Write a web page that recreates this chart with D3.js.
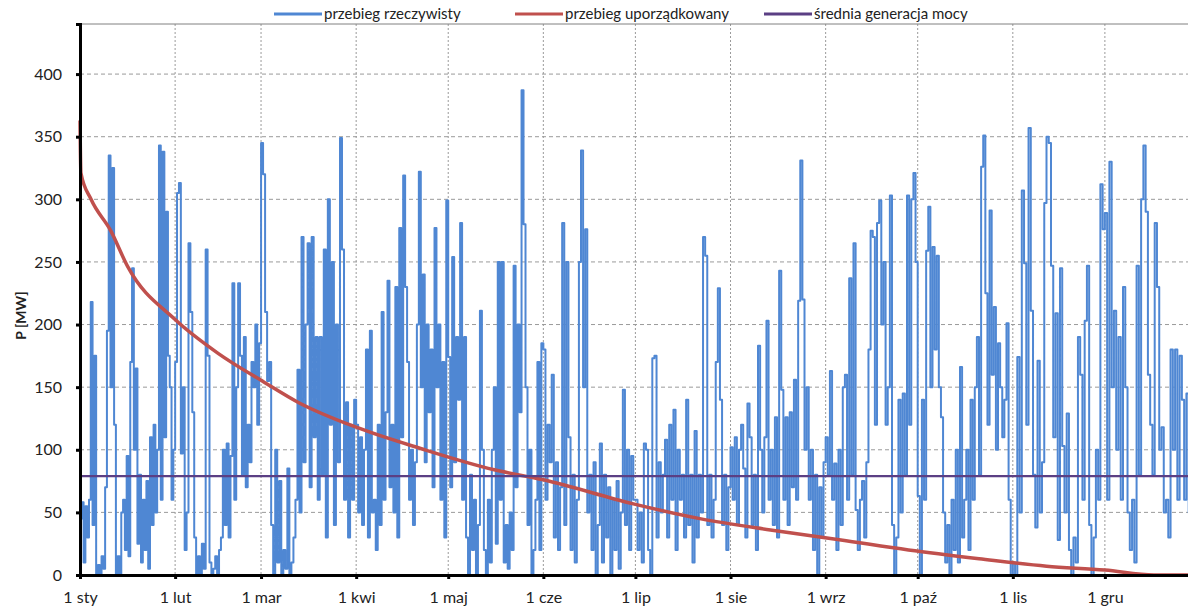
<!DOCTYPE html>
<html>
<head>
<meta charset="utf-8">
<script src="https://cdnjs.cloudflare.com/ajax/libs/d3/7.8.5/d3.min.js"></script>
<style>
  body { margin: 0; background: #fff; }
  text { font-family: Lato, "Liberation Sans", sans-serif; fill: #222; }
</style>
</head>
<body>
<div id="chart"></div>
<script>
// Plot constants
const WIDTH = 1188;
const HEIGHT = 610;

// Month tick labels and month lengths (days)
const monthLabels = ["1 sty", "1 lut", "1 mar", "1 kwi", "1 maj", "1 cze", "1 lip", "1 sie", "1 wrz", "1 paź", "1 lis", "1 gru"];
const monthDays = [31, 28, 31, 30, 31, 30, 31, 31, 30, 31, 30, 31];
const yTicks = [0, 50, 100, 150, 200, 250, 300, 350, 400];

const janMW = [45, 58, 10, 55, 30, 60, 218, 40, 175, 0, 8, 0, 15, 5, 70, 195, 335, 150, 325, 120, 0, 15, 0, 50, 60, 20, 95, 15, 170, 245, 100, 165, 25, 80, 10, 60, 20, 75, 5, 110, 40, 120, 50, 100, 343, 60, 338, 110, 290, 175, 150, 60, 100];
const febMW = [170, 305, 313, 97, 150, 20, 50, 265, 210, 130, 30, 0, 15, 0, 25, 5, 260, 175, 10, 0, 5, 15, 0, 20, 30, 100, 40, 105, 30, 95, 233, 60, 150, 233, 175, 80, 190, 70, 120, 90, 170, 150, 200, 120, 185];
const marMW = [345, 320, 210, 155, 170, 40, 0, 100, 10, 75, 0, 20, 5, 85, 0, 10, 30, 60, 164, 50, 270, 90, 200, 265, 70, 270, 110, 190, 60, 190, 80, 260, 30, 300, 120, 250, 40, 200, 90, 349, 260, 60, 138, 30, 120, 60, 140];
const aprMW = [120, 50, 110, 40, 100, 180, 30, 195, 50, 60, 20, 120, 40, 210, 60, 130, 235, 70, 120, 50, 230, 30, 277, 110, 319, 230, 170, 60, 100, 40, 90, 200, 322, 150, 240, 90, 200, 130, 180, 70, 277, 150, 200, 60, 170, 30, 299];
const mayMW = [174, 70, 254, 90, 190, 140, 281, 60, 190, 30, 0, 80, 20, 60, 0, 40, 211, 100, 20, 0, 60, 10, 100, 150, 25, 250, 60, 250, 10, 40, 5, 50, 20, 247, 70, 200, 130, 387, 280, 150, 40, 100, 0, 20, 60, 170, 20, 185];
const junMW = [180, 60, 120, 90, 160, 30, 90, 20, 70, 281, 40, 250, 110, 20, 80, 10, 60, 250, 339, 150, 276, 50, 80, 20, 90, 0, 40, 105, 10, 80, 30, 70, 0, 60, 20, 75, 5, 50, 148, 40, 100, 20, 95, 60];
const julMW = [60, 20, 50, 10, 105, 100, 20, 0, 173, 175, 30, 90, 50, 80, 108, 30, 120, 60, 132, 20, 100, 60, 80, 30, 140, 40, 80, 10, 115, 30, 80, 50, 270, 255, 40, 80, 30, 60, 170, 229, 140, 40, 80, 20, 70];
const augMW = [102, 60, 110, 40, 100, 120, 85, 30, 137, 110, 40, 80, 20, 183, 100, 50, 110, 203, 60, 100, 40, 126, 30, 243, 148, 60, 126, 40, 130, 70, 156, 60, 219, 331, 220, 100, 150, 60, 100, 20, 80, 0, 70, 30, 90];
const sepMW = [110, 80, 163, 60, 89, 20, 100, 40, 150, 160, 60, 237, 80, 265, 52, 20, 60, 75, 30, 90, 180, 275, 270, 120, 281, 299, 200, 250, 120, 150, 303, 40, 0, 30, 140, 50, 145, 80, 303, 120, 300, 321, 250];
const octMW = [63, 0, 140, 60, 259, 294, 150, 262, 180, 255, 150, 126, 50, 10, 40, 0, 60, 20, 100, 10, 166, 30, 60, 100, 20, 140, 60, 150, 190, 80, 326, 351, 225, 120, 291, 160, 214, 100, 185, 150, 110, 140, 201, 60, 0];
const novMW = [10, 0, 174, 50, 307, 249, 120, 357, 211, 80, 38, 171, 50, 90, 297, 350, 345, 247, 110, 209, 28, 245, 103, 50, 129, 20, 0, 30, 10, 190, 160, 60, 203, 247, 40, 0, 30, 100, 60, 312, 276];
const decMW = [289, 60, 330, 150, 211, 100, 190, 60, 230, 150, 50, 20, 60, 10, 247, 80, 300, 343, 290, 160, 120, 80, 281, 230, 100, 118, 50, 60, 30, 180, 100, 180, 60, 175, 140, 60, 145, 50, 100, 70, 90, 60];
const monthlyMW = [janMW, febMW, marMW, aprMW, mayMW, junMW, julMW, augMW, sepMW, octMW, novMW, decMW];

// Sorted (duration) curve
const durationDays = [0, 0.3, 3.6, 10, 15.6, 31, 45, 60, 71, 90, 111, 135, 151, 180, 202, 225, 248, 270, 293, 315, 334, 350, 365];
const durationMW = [363, 321, 300, 275, 246, 204, 177, 154, 138, 118, 101, 84, 76, 57, 45, 36, 28, 20, 13, 7, 4, 0, 0];

// Mean generated power
const meanMW = 79;

// Legend entries
const legendNames = ["przebieg rzeczywisty", "przebieg uporządkowany", "średnia generacja mocy"];
const legendColors = ["#4f87d3", "#c0504d", "#5b3f84"];

// Plot area
const LEFT = 80;
const TOP = 24;
const BOTTOM = 575;
const RIGHT = 1200;

const svg = d3
  .select("#chart")
  .append("svg")
  .attr("width", WIDTH)
  .attr("height", HEIGHT);

const x = d3.scaleLinear().domain([0, 365]).range([LEFT, RIGHT]);
const y = d3.scaleLinear().domain([0, 440]).range([BOTTOM, TOP]);

// Month start days
const monthStart = d3.cumsum([0].concat(monthDays.slice(0, 11)));

// Build the actual series: values spread evenly inside each month
const actual = [];
monthlyMW.forEach((vals, m) => {
  vals.forEach((v, i) => {
    actual.push({day: monthStart[m] + ((i + 0.5) * monthDays[m]) / vals.length, mw: v});
  });
});
const duration = durationDays.map((d, i) => ({day: d, mw: durationMW[i]}));

// Grid
svg
  .append("g")
  .selectAll("line")
  .data(yTicks.slice(1))
  .join("line")
  .attr("x1", LEFT)
  .attr("x2", WIDTH)
  .attr("y1", (d) => y(d))
  .attr("y2", (d) => y(d))
  .attr("stroke", "#9a9a9a")
  .attr("stroke-dasharray", "4,3");

svg
  .append("g")
  .selectAll("line")
  .data(monthStart.slice(1))
  .join("line")
  .attr("x1", (d) => x(d))
  .attr("x2", (d) => x(d))
  .attr("y1", TOP)
  .attr("y2", BOTTOM)
  .attr("stroke", "#9a9a9a")
  .attr("stroke-dasharray", "2,2");

// Top border
svg
  .append("line")
  .attr("x1", LEFT)
  .attr("x2", WIDTH)
  .attr("y1", TOP)
  .attr("y2", TOP)
  .attr("stroke", "#808080");

// Series
svg
  .append("path")
  .datum(actual)
  .attr(
    "d",
    d3
      .line()
      .x((d) => x(d.day))
      .y((d) => y(d.mw))
      .curve(d3.curveStep)
  )
  .attr("fill", "none")
  .attr("stroke", legendColors[0])
  .attr("stroke-width", 2)
  .attr("stroke-linejoin", "round");

svg
  .append("path")
  .datum(duration)
  .attr(
    "d",
    d3
      .line()
      .x((d) => x(d.day))
      .y((d) => y(d.mw))
      .curve(d3.curveMonotoneX)
  )
  .attr("fill", "none")
  .attr("stroke", legendColors[1])
  .attr("stroke-width", 3.5);

svg
  .append("line")
  .attr("x1", LEFT)
  .attr("x2", WIDTH)
  .attr("y1", y(meanMW))
  .attr("y2", y(meanMW))
  .attr("stroke", legendColors[2])
  .attr("stroke-width", 2.2);

// Axes
const yAxis = svg
  .append("g")
  .attr("transform", `translate(${LEFT},0)`)
  .call(d3.axisLeft(y).tickValues(yTicks).tickSize(4).tickPadding(14));
yAxis.select(".domain").attr("stroke", "#000").attr("stroke-width", 3);
yAxis.selectAll(".tick line").attr("stroke", "#000").attr("stroke-width", 3);
yAxis.selectAll("text").attr("font-size", "16px").attr("font-family", "Lato, sans-serif").attr("fill", "#222");

const xAxis = svg
  .append("g")
  .attr("transform", `translate(0,${BOTTOM})`)
  .call(
    d3
      .axisBottom(x)
      .tickValues(monthStart)
      .tickFormat((d, i) => monthLabels[i])
      .tickSize(4)
      .tickPadding(13)
  );
xAxis.select(".domain").attr("stroke", "#000").attr("stroke-width", 3);
xAxis.selectAll(".tick line").attr("stroke", "#000").attr("stroke-width", 3);
xAxis.selectAll("text").attr("font-size", "16px").attr("font-family", "Lato, sans-serif").attr("fill", "#222");

// Y label
svg
  .append("text")
  .attr("transform", `translate(26,${(TOP + BOTTOM) / 2 + 16}) rotate(-90)`)
  .attr("text-anchor", "middle")
  .attr("font-size", "14px")
  .attr("font-weight", "bold")
  .text("P [MW]");

// Legend
const legendX = [274, 515, 764];
const legend = svg
  .append("g")
  .selectAll("g")
  .data(legendNames)
  .join("g")
  .attr("transform", (d, i) => `translate(${legendX[i]},14)`);

legend
  .append("line")
  .attr("x1", 0)
  .attr("x2", 48)
  .attr("stroke", (d, i) => legendColors[i])
  .attr("stroke-width", 3);

legend
  .append("text")
  .attr("x", 50)
  .attr("y", 5)
  .attr("font-size", "15px")
  .text((d) => d);
</script>
</body>
</html>
